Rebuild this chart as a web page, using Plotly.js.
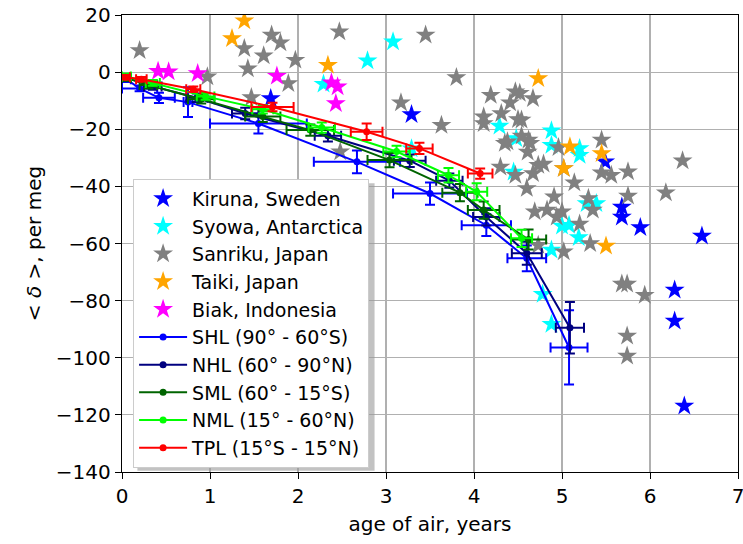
<!DOCTYPE html>
<html><head><meta charset="utf-8">
<script src="https://cdn.plot.ly/plotly-3.0.1.min.js"></script>
<style>body{margin:0;padding:0;background:#fff}#plot{width:743px;height:544px}</style>
</head><body><div id="plot"></div>
<script>
// Station observations (age of air, years ; delta, per meg)
const kirunaX = [1.69, 3.29, 5.49, 5.68, 5.68, 5.89, 6.59, 6.28, 6.28, 6.39];
const kirunaY = [-9.2, -14.8, -31.4, -47.2, -50.7, -54.4, -57.4, -76.3, -87.1, -116.9];

const syowaX = [2.29, 2.79, 3.08, 3.29, 4.29, 4.48, 4.45, 4.88, 4.88, 5.20, 5.20, 5.28, 5.39, 5.00, 5.08, 5.19, 4.88, 4.78, 4.88];
const syowaY = [-4.2, 4.0, 10.6, -26.8, -18.9, -23.2, -35.0, -20.5, -25.6, -26.7, -29.1, -46.0, -46.0, -53.9, -53.6, -57.9, -62.3, -77.8, -88.3];

const sanrikuX = [0.20, 0.97, 1.39, 1.43, 1.47, 1.61, 1.70, 1.80, 1.89, 1.97, 2.47, 2.48, 3.17, 3.45, 3.63, 3.80,
  4.11, 4.11, 4.19, 4.30, 4.31, 4.35, 4.38, 4.41, 4.47, 4.47, 4.50, 4.52, 4.54, 4.54, 4.60, 4.61, 4.62, 4.64, 4.67, 4.67,
  4.69, 4.73, 4.73, 4.79, 4.83, 4.91, 4.94, 4.96, 5.00, 5.02, 5.02, 5.14, 5.20, 5.30, 5.32, 5.35, 5.45, 5.45, 5.56,
  5.68, 5.74, 5.74, 5.74, 5.75, 5.75, 5.94, 6.18, 6.37];
const sanrikuY = [7.6, -1.6, 8.3, 1.2, -8.9, 5.7, 13.0, 10.3, -4.0, 4.2, 14.1, -27.9, -10.7, 13.0, -18.6, -1.9,
  -15.6, -18.0, -8.1, -33.2, -14.5, -24.9, -24.4, -10.7, -6.9, -36.1, -16.6, -7.4, -16.8, -22.4, -40.7, -28.0, -23.8, -24.9, -9.2, -35.5,
  -48.9, -32.6, -60.6, -32.2, -48.3, -43.6, -50.7, -26.4, -48.9, -33.7, -62.9, -38.7, -53.2, -44.2, -60.0, -48.3, -23.8, -35.2, -36.1,
  -74.2, -74.2, -92.4, -99.4, -34.9, -43.4, -78.1, -42.2, -31.0];

const taikiX = [1.39, 1.25, 2.34, 4.73, 5.09, 5.45, 5.02, 5.50];
const taikiY = [18.0, 11.8, 2.4, -2.2, -26.1, -28.5, -33.7, -60.9];

const biakX = [0.41, 0.53, 0.86, 1.76, 2.38, 2.45, 2.43];
const biakY = [0.3, 0.1, -0.5, -1.4, -3.7, -5.1, -11.0];

// Latitude-band means with errors
const shlX = [0.05, 0.20, 0.42, 0.75, 1.55, 2.67, 3.50, 4.14, 4.60, 5.08];
const shlY = [-2.5, -5.7, -9.0, -10.5, -18.0, -31.4, -42.5, -53.6, -65.2, -96.4];
const shlXerr = [0.05, 0.20, 0.18, 0.05, 0.55, 0.49, 0.42, 0.28, 0.22, 0.21];
const shlYerr = [1.0, 1.0, 1.8, 5.2, 3.5, 4.0, 3.9, 3.8, 4.5, 13.0];

const nhlX = [0.05, 0.35, 0.85, 1.40, 2.34, 3.27, 3.72, 4.14, 4.60, 5.09];
const nhlY = [-2.0, -5.0, -9.0, -14.5, -22.3, -31.0, -38.0, -50.7, -63.4, -89.5];
const nhlXerr = [0.05, 0.10, 0.12, 0.15, 0.15, 0.18, 0.15, 0.15, 0.17, 0.16];
const nhlYerr = [1.0, 1.2, 1.5, 2.0, 2.0, 2.2, 2.5, 3.0, 4.0, 9.0];

const smlX = [0.05, 0.30, 0.90, 1.60, 2.14, 3.04, 3.84, 4.11, 4.62];
const smlY = [-2.0, -4.5, -9.5, -15.5, -20.3, -30.8, -42.2, -48.3, -58.6];
const smlXerr = [0.05, 0.10, 0.15, 0.20, 0.27, 0.25, 0.20, 0.18, 0.20];
const smlYerr = [1.0, 1.2, 1.5, 2.0, 2.0, 2.5, 3.0, 3.0, 3.5];

const nmlX = [0.05, 0.35, 0.95, 1.60, 2.27, 3.12, 3.71, 4.03, 4.54];
const nmlY = [-1.5, -3.8, -8.5, -13.0, -19.4, -27.8, -36.1, -41.9, -58.2];
const nmlXerr = [0.05, 0.08, 0.10, 0.12, 0.15, 0.15, 0.12, 0.12, 0.12];
const nmlYerr = [1.0, 1.0, 1.2, 1.5, 1.8, 2.0, 2.5, 3.0, 3.0];

const tplX = [0.04, 0.22, 0.81, 1.71, 2.78, 3.38, 4.07];
const tplY = [-1.8, -2.5, -6.0, -12.2, -20.9, -26.7, -35.5];
const tplXerr = [0.05, 0.06, 0.08, 0.24, 0.18, 0.15, 0.14];
const tplYerr = [0.8, 0.8, 1.0, 1.5, 2.9, 2.0, 1.8];

const xTicks = [0, 1, 2, 3, 4, 5, 6, 7];
const yTicks = [20, 0, -20, -40, -60, -80, -100, -120, -140];

function stars(name, x, y, color, g) {
  return {type: 'scatter', mode: 'markers', name: name, x: x, y: y, legendgroup: g,
    marker: {symbol: 'star', size: 15, color: color, line: {width: 0}}};
}
function band(name, x, y, xe, ye, color, g) {
  return {type: 'scatter', mode: 'lines+markers', name: name, x: x, y: y, legendgroup: g,
    line: {color: color, width: 2}, marker: {symbol: 'circle', size: 7, color: color},
    error_x: {type: 'data', array: xe, visible: true, color: color, thickness: 2, width: 5},
    error_y: {type: 'data', array: ye, visible: true, color: color, thickness: 2, width: 5}};
}

const data = [
  stars('Kiruna, Sweden', kirunaX, kirunaY, '#0000ff', 'a'),
  stars('Syowa, Antarctica', syowaX, syowaY, '#00ffff', 'b'),
  stars('Sanriku, Japan', sanrikuX, sanrikuY, '#808080', 'c'),
  stars('Taiki, Japan', taikiX, taikiY, '#ffa500', 'd'),
  stars('Biak, Indonesia', biakX, biakY, '#ff00ff', 'e'),
  band('SHL (90° - 60°S)', shlX, shlY, shlXerr, shlYerr, '#0000ff', 'f'),
  band('NHL (60° - 90°N)', nhlX, nhlY, nhlXerr, nhlYerr, '#000080', 'g'),
  band('SML (60° - 15°S)', smlX, smlY, smlXerr, smlYerr, '#006400', 'h'),
  band('NML (15° - 60°N)', nmlX, nmlY, nmlXerr, nmlYerr, '#00ff00', 'i'),
  band('TPL (15°S - 15°N)', tplX, tplY, tplXerr, tplYerr, '#ff0000', 'j')
];

const layout = {
  width: 743, height: 544,
  margin: {l: 122, r: 5, t: 15, b: 72},
  paper_bgcolor: '#ffffff', plot_bgcolor: '#ffffff',
  font: {family: 'DejaVu Sans', size: 20, color: '#000'},
  showlegend: true,
  legend: {x: 0.018, y: 0.642, xanchor: 'left', yanchor: 'top',
    bgcolor: '#ffffff', bordercolor: '#cccccc', borderwidth: 1,
    font: {family: 'DejaVu Sans', size: 19, color: '#000'},
    itemwidth: 48,
    tracegroupgap: 3, traceorder: 'normal'},
  shapes: [{type: 'rect', xref: 'paper', yref: 'paper', layer: 'above',
    x0: 0.025, x1: 0.410, y0: 0.0030, y1: 0.632,
    fillcolor: '#999999', line: {width: 0}, opacity: 0.6}],
  xaxis: {range: [0, 7], tickvals: xTicks, ticks: 'outside', ticklen: 6, tickcolor: '#000',
    ticklabeloverflow: 'allow',
    showgrid: true, gridcolor: '#b0b0b0', gridwidth: 1.2, zeroline: false,
    showline: true, linecolor: '#000', linewidth: 1.2, mirror: true,
    title: {text: 'age of air, years', font: {size: 20}, standoff: 9}},
  yaxis: {range: [-140, 20], tickvals: yTicks, ticks: 'outside', ticklen: 6, tickcolor: '#000',
    ticklabeloverflow: 'allow',
    showgrid: true, gridcolor: '#b0b0b0', gridwidth: 1.2, zeroline: false,
    showline: true, linecolor: '#000', linewidth: 1.2, mirror: true,
    title: {text: '&lt; <i>δ</i> &gt;, per meg', font: {size: 20}, standoff: 8}}
};

Plotly.newPlot('plot', data, layout, {displayModeBar: false, staticPlot: true});
</script></body></html>
